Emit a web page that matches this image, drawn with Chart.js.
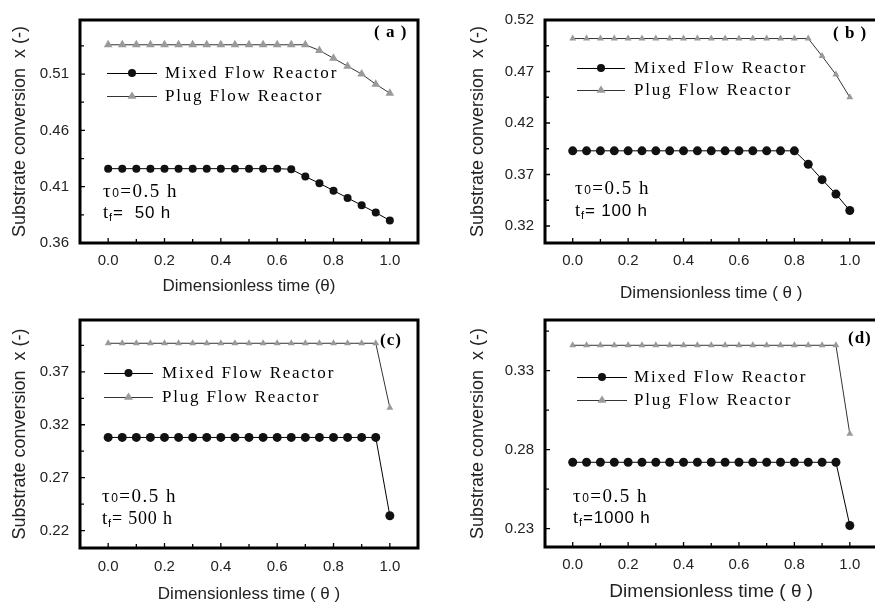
<!DOCTYPE html>
<html>
<head>
<meta charset="utf-8">
<script src="https://cdn.jsdelivr.net/npm/chart.js@4.4.0/dist/chart.umd.min.js"></script>
<style>
  html, body { margin: 0; padding: 0; background: #fff; width: 875px; height: 606px; overflow: hidden; position: relative; }
  canvas { position: absolute; }
</style>
</head>
<body>
<canvas id="pa" width="437" height="300" style="left:0px;top:0px"></canvas>
<canvas id="pb" width="445" height="306" style="left:437px;top:0px"></canvas>
<canvas id="pc" width="437" height="306" style="left:0px;top:300px"></canvas>
<canvas id="pd" width="445" height="306" style="left:437px;top:300px"></canvas>
<script>
// dimensionless time, same for every panel
const theta = [0.00, 0.05, 0.10, 0.15, 0.20, 0.25, 0.30, 0.35, 0.40, 0.45, 0.50,
               0.55, 0.60, 0.65, 0.70, 0.75, 0.80, 0.85, 0.90, 0.95, 1.00];

// (a) tf = 50 h
const mfrA = [0.426, 0.426, 0.426, 0.426, 0.426, 0.426, 0.426, 0.426, 0.426, 0.426, 0.426,
              0.426, 0.426, 0.4255, 0.419, 0.413, 0.4065, 0.400, 0.3935, 0.387, 0.380];
const pfrA = [0.536, 0.536, 0.536, 0.536, 0.536, 0.536, 0.536, 0.536, 0.536, 0.536, 0.536,
              0.536, 0.536, 0.536, 0.536, 0.531, 0.524, 0.517, 0.510, 0.501, 0.493];
// (b) tf = 100 h
const mfrB = [0.393, 0.393, 0.393, 0.393, 0.393, 0.393, 0.393, 0.393, 0.393, 0.393, 0.393,
              0.393, 0.393, 0.393, 0.393, 0.393, 0.393, 0.380, 0.365, 0.351, 0.335];
const pfrB = [0.502, 0.502, 0.502, 0.502, 0.502, 0.502, 0.502, 0.502, 0.502, 0.502, 0.502,
              0.502, 0.502, 0.502, 0.502, 0.502, 0.502, 0.502, 0.485, 0.467, 0.445];
// (c) tf = 500 h
const mfrC = [0.308, 0.308, 0.308, 0.308, 0.308, 0.308, 0.308, 0.308, 0.308, 0.308, 0.308,
              0.308, 0.308, 0.308, 0.308, 0.308, 0.308, 0.308, 0.308, 0.308, 0.234];
const pfrC = [0.397, 0.397, 0.397, 0.397, 0.397, 0.397, 0.397, 0.397, 0.397, 0.397, 0.397,
              0.397, 0.397, 0.397, 0.397, 0.397, 0.397, 0.397, 0.397, 0.397, 0.336];
// (d) tf = 1000 h
const mfrD = [0.272, 0.272, 0.272, 0.272, 0.272, 0.272, 0.272, 0.272, 0.272, 0.272, 0.272,
              0.272, 0.272, 0.272, 0.272, 0.272, 0.272, 0.272, 0.272, 0.272, 0.232];
const pfrD = [0.346, 0.346, 0.346, 0.346, 0.346, 0.346, 0.346, 0.346, 0.346, 0.346, 0.346,
              0.346, 0.346, 0.346, 0.346, 0.346, 0.346, 0.346, 0.346, 0.346, 0.290];

// axis ticks
const xTicks = [0.0, 0.2, 0.4, 0.6, 0.8, 1.0];
const xMinor = [0.1, 0.3, 0.5, 0.7, 0.9];
const yTicksA = [0.36, 0.41, 0.46, 0.51];
const yMinorA = [0.385, 0.435, 0.485, 0.535];
const yTicksB = [0.32, 0.37, 0.42, 0.47, 0.52];
const yMinorB = [0.345, 0.395, 0.445, 0.495];
const yTicksC = [0.22, 0.27, 0.32, 0.37];
const yMinorC = [0.245, 0.295, 0.345, 0.395];
const yTicksD = [0.23, 0.28, 0.33];
const yMinorD = [0.255, 0.305, 0.355];

const seriesNames = ['Mixed Flow Reactor', 'Plug Flow Reactor'];
const panelLabels = ['( a )', '( b )', '(c)', '(d)'];
const tfLabels = ['=  50 h', '= 100 h', '= 500 h', '=1000 h'];

const SANS = '"Liberation Sans", Arial, sans-serif';
const SERIF = '"Liberation Serif", "Times New Roman", serif';

// draws the frame, inward ticks, legend and notes
const decoPlugin = {
  id: 'deco',
  afterDatasetsDraw(chart, args, o) {
    const ctx = chart.ctx;
    const xs = chart.scales.x, ys = chart.scales.y;
    const a = chart.chartArea;
    ctx.save();
    ctx.strokeStyle = '#000';
    ctx.lineWidth = 1.3;
    ctx.beginPath();
    xTicks.forEach(v => { const p = xs.getPixelForValue(v); ctx.moveTo(p, a.bottom); ctx.lineTo(p, a.bottom - 5); });
    xMinor.forEach(v => { const p = xs.getPixelForValue(v); ctx.moveTo(p, a.bottom); ctx.lineTo(p, a.bottom - 4); });
    o.yTicks.forEach(v => { const p = ys.getPixelForValue(v); ctx.moveTo(a.left, p); ctx.lineTo(a.left + 5, p); });
    o.yMinor.forEach(v => { const p = ys.getPixelForValue(v); if (p > a.top + 2 && p < a.bottom - 2) { ctx.moveTo(a.left, p); ctx.lineTo(a.left + 4, p); } });
    ctx.stroke();
    // frame
    ctx.lineWidth = 3;
    ctx.strokeRect(a.left, a.top, a.right - a.left, a.bottom - a.top);

    // legend
    chart.data.datasets.forEach((ds, i) => {
      const y = o.legend.y + i * o.legend.gap;
      ctx.strokeStyle = ds.borderColor;
      ctx.lineWidth = 1;
      ctx.beginPath();
      ctx.moveTo(o.legend.x1, y + 0.5);
      ctx.lineTo(o.legend.x2, y + 0.5);
      ctx.stroke();
      const mx = (o.legend.x1 + o.legend.x2) / 2;
      ctx.fillStyle = ds.pointBackgroundColor;
      ctx.beginPath();
      if (ds.pointStyle === 'triangle') {
        const r = 4.5;
        ctx.moveTo(mx, y - r);
        ctx.lineTo(mx + r, y + r * 0.6);
        ctx.lineTo(mx - r, y + r * 0.6);
        ctx.closePath();
      } else {
        ctx.arc(mx, y, 4, 0, Math.PI * 2);
      }
      ctx.fill();
      ctx.fillStyle = '#000';
      ctx.font = '17px ' + SERIF;
      ctx.letterSpacing = '1.8px';
      ctx.textBaseline = 'middle';
      ctx.textAlign = 'left';
      ctx.fillText(ds.label, o.legend.tx, y + 1);
    });

    // tau and tf notes
    const runs = (x, y, parts) => {
      parts.forEach(([t, f, dy]) => {
        ctx.font = f;
        ctx.fillText(t, x, y + dy);
        x += ctx.measureText(t).width;
      });
    };
    ctx.letterSpacing = '1.5px';
    runs(o.note.x, o.note.y, [['\u03c4', '19px ' + SERIF, 0], ['0', '12px ' + SANS, 2], ['=0.5 h', '19px ' + SERIF, 0]]);
    ctx.letterSpacing = '0.8px';
    runs(o.note.x, o.note.y + o.note.gap, [['t', '19px ' + SERIF, 0], ['f', '11px ' + SANS, 5], [o.note.tf, o.note.tfFont, 0]]);

    // panel label
    ctx.letterSpacing = '1px';
    ctx.font = 'bold 17px ' + SERIF;
    ctx.fillText(o.label.text, o.label.x, o.label.y);
    ctx.restore();
  }
};

function makePanel(id, mfr, pfr, g) {
  const pts = vals => theta.map((t, i) => ({ x: t, y: vals[i] }));
  return new Chart(document.getElementById(id), {
    type: 'line',
    data: {
      datasets: [
        { label: seriesNames[0], data: pts(mfr), borderColor: '#000', borderWidth: 1,
          pointStyle: 'circle', pointRadius: g.dotR, pointBackgroundColor: '#111', pointBorderWidth: 0 },
        { label: seriesNames[1], data: pts(pfr), borderColor: '#333', borderWidth: 1,
          pointStyle: 'triangle', pointRadius: g.triR, pointBackgroundColor: '#9a9a9a', pointBorderWidth: 0 }
      ]
    },
    options: {
      responsive: false,
      animation: false,
      layout: { padding: { top: g.top, right: g.right, left: 0, bottom: 0 } },
      plugins: {
        legend: { display: false },
        tooltip: { enabled: false },
        deco: { yTicks: g.yTicks, yMinor: g.yMinor, legend: g.legend, note: g.note, label: g.label }
      },
      scales: {
        x: {
          type: 'linear', min: -0.1, max: 1.1,
          afterBuildTicks: s => { s.ticks = xTicks.map(v => ({ value: v })); },
          afterFit: s => { s.height = g.xH; },
          grid: { display: false, drawTicks: false },
          border: { display: false },
          ticks: { padding: g.xPad, color: '#222', font: { family: SANS, size: 15 },
                   maxRotation: 0, autoSkip: false, callback: v => v.toFixed(1) },
          title: { display: true, text: g.xTitle, color: '#222', font: { family: SANS, size: g.xTitleSize },
                   padding: { top: 0, bottom: g.xTitlePad } }
        },
        y: {
          min: g.yMin, max: g.yMax,
          afterBuildTicks: s => { s.ticks = g.yTicks.map(v => ({ value: v })); },
          afterFit: s => { s.width = g.yW; },
          grid: { display: false, drawTicks: false },
          border: { display: false },
          ticks: { padding: 11, color: '#222', font: { family: SANS, size: 15 },
                   autoSkip: false, callback: v => v.toFixed(2) },
          title: { display: true, text: 'Substrate conversion  x (-)', color: '#222',
                   font: { family: SANS, size: 18 }, padding: { top: g.yTitlePad, bottom: 0 } }
        }
      }
    },
    plugins: [decoPlugin]
  });
}

makePanel('pa', mfrA, pfrA, {
  top: 14, right: 19, yW: 80, xH: 57, yMin: 0.36, yMax: 0.558, yTicks: yTicksA, yMinor: yMinorA, triR: 5, dotR: 4,
  xPad: 9, xTitle: 'Dimensionless time (\u03b8)', xTitleSize: 17, xTitlePad: 3.5, yTitlePad: 9,
  legend: { x1: 107, x2: 157, y: 73, gap: 23, tx: 165 },
  note: { x: 103, y: 192, gap: 21, tf: tfLabels[0], tfFont: '17px ' + SANS },
  label: { text: panelLabels[0], x: 374, y: 33 }
});
makePanel('pb', mfrB, pfrB, {
  top: 15, right: 0, yW: 108, xH: 63, yMin: 0.3035, yMax: 0.52, yTicks: yTicksB, yMinor: yMinorB, triR: 4, dotR: 4.5,
  xPad: 9, xTitle: 'Dimensionless time ( \u03b8 )', xTitleSize: 17, xTitlePad: 2.5, yTitlePad: 30,
  legend: { x1: 140, x2: 188, y: 68, gap: 22, tx: 197 },
  note: { x: 138, y: 189, gap: 22, tf: tfLabels[1], tfFont: '17px ' + SANS },
  label: { text: panelLabels[1], x: 396, y: 34 }
});
makePanel('pc', mfrC, pfrC, {
  top: 18, right: 19, yW: 80, xH: 58, yMin: 0.2035, yMax: 0.419, yTicks: yTicksC, yMinor: yMinorC, triR: 4, dotR: 4.5,
  xPad: 10, xTitle: 'Dimensionless time ( \u03b8 )', xTitleSize: 17, xTitlePad: 1, yTitlePad: 9,
  legend: { x1: 104, x2: 153, y: 73, gap: 24, tx: 162 },
  note: { x: 102, y: 197, gap: 22, tf: tfLabels[2], tfFont: '18px ' + SERIF },
  label: { text: panelLabels[2], x: 380, y: 41 }
});
makePanel('pd', mfrD, pfrD, {
  top: 18, right: 0, yW: 108, xH: 59, yMin: 0.2184, yMax: 0.362, yTicks: yTicksD, yMinor: yMinorD, triR: 4, dotR: 4.5,
  xPad: 9, xTitle: 'Dimensionless time ( \u03b8 )', xTitleSize: 19, xTitlePad: 2.5, yTitlePad: 30,
  legend: { x1: 140, x2: 190, y: 77, gap: 23, tx: 197 },
  note: { x: 136, y: 197, gap: 21, tf: tfLabels[3], tfFont: '17px ' + SANS },
  label: { text: panelLabels[3], x: 411, y: 39 }
});
</script>
</body>
</html>
